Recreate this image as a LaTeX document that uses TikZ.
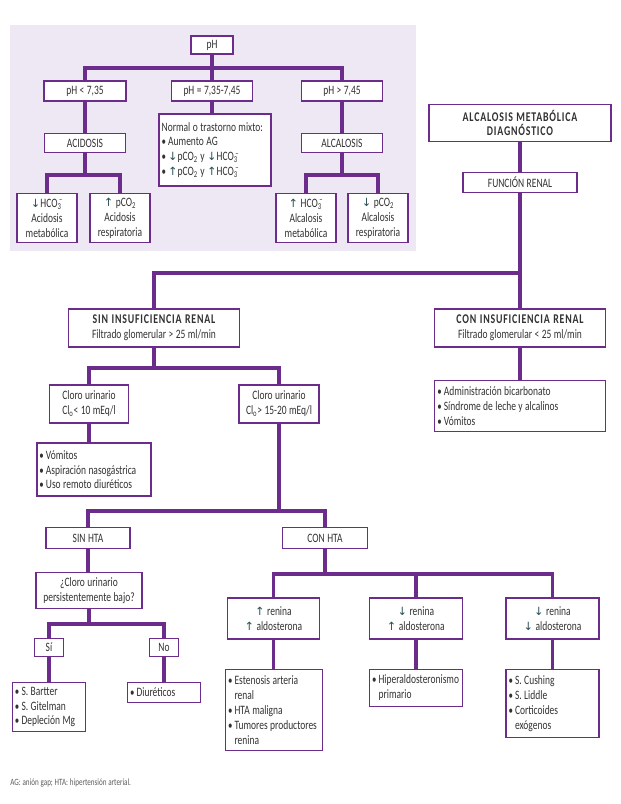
\documentclass[tikz,border=0pt]{standalone}
\usepackage{fontspec}
\setmainfont{Carlito}[FakeStretch=0.74, WordSpace={1.15,0,0}]
\newfontfamily\arrfont{DejaVu Sans}
\definecolor{pur}{RGB}{108,44,140}
\definecolor{lav}{RGB}{238,232,244}
\definecolor{txt}{RGB}{50,50,50}
\definecolor{arrc}{RGB}{40,80,85}
\newcommand\myup{{\arrfont\color{arrc}\fontsize{8.5}{10}\selectfont\char"2191}}
\newcommand\mydn{{\arrfont\color{arrc}\fontsize{8.5}{10}\selectfont\char"2193}}
\newcommand\hcoo{HCO\rlap{\textsubscript{3}}\textsuperscript{\,–}}
\newcommand\pcoo{pCO\textsubscript{2}}
\newcommand\bul{{\small\textbullet}\,}
\newcommand\hang{\phantom{{\small\textbullet}\,}}
\newcommand\hdr[1]{{\fontsize{10}{11.5}\selectfont\bfseries\addfontfeatures{LetterSpace=6}#1}}
\tikzset{
  bx/.style n args={2}{draw=pur, line width=1.2pt, fill=white,
    minimum width=#1*0.75pt, minimum height=#2*0.75pt, inner sep=1pt,
    align=center, font=\fontsize{9.6}{11.2}\selectfont, text=txt},
  lbx/.style n args={2}{draw=pur, line width=1.2pt, fill=white,
    text width=#1, minimum height=#2*0.75pt, inner xsep=2pt, inner ysep=1pt,
    align=flush left, font=\fontsize{9.6}{11.2}\selectfont, text=txt},
  conn/.style={draw=pur, line width=2.6pt, line join=miter}
}
\begin{document}
\hyphenpenalty=10000 \exhyphenpenalty=10000
\begin{tikzpicture}[x=0.75pt,y=-0.75pt]
\useasboundingbox (0,0) rectangle (621,804);
\fill[lav] (10,25) rectangle (416,251);

% ---- top panel ----
\node[bx={42}{18}] (pH) at (212,45) {pH};
\node[bx={82}{20}] (pHlow) at (85,91) {pH < 7,35};
\node[bx={81}{20}] (pHmid) at (212,91) {pH = 7,35-7,45};
\node[bx={81}{20}] (pHhigh) at (342,91) {pH > 7,45};
\node[bx={81}{19}] (acid) at (85,143) {ACIDOSIS};
\node[lbx={80pt}{72}] (normal) at (215,150) {Normal o trastorno mixto:\\ \bul Aumento AG\\ \bul\mydn\pcoo{} y \mydn\hcoo\\ \bul\myup\pcoo{} y \myup\hcoo};
\node[bx={81}{19}] (alc) at (342,143) {ALCALOSIS};
\node[bx={60}{49}] (a1) at (47,218) {\mydn\hcoo\\Acidosis\\metabólica};
\node[bx={60}{49}] (a2) at (120,218) {\myup{} \pcoo\\Acidosis\\respiratoria};
\node[bx={60}{49}] (b1) at (306,218) {\myup{} \hcoo\\Alcalosis\\metabólica};
\node[bx={60}{49}] (b2) at (378,218) {\mydn{} \pcoo\\Alcalosis\\respiratoria};

\coordinate (t1) at (212,68);
\coordinate (t2) at (85,175);
\coordinate (t3) at (342,175);
\draw[conn] (pH.south) -- (pHmid.north);
\draw[conn] (pHlow.north) |- (t1) -| (pHhigh.north);
\draw[conn] (pHlow.south) -- (acid.north);
\draw[conn] (pHmid.south) -- (pHmid.south |- normal.north);
\draw[conn] (pHhigh.south) -- (alc.north);
\draw[conn] (acid.south) -- (t2);
\draw[conn] (a1.north) |- (t2) -| (a2.north);
\draw[conn] (alc.south) -- (t3);
\draw[conn] (b1.north) |- (t3) -| (b2.north);

% ---- main flowchart ----
\node[bx={182}{37}] (diag) at (520,123) {\hdr{ALCALOSIS METABÓLICA}\\[-1pt]\hdr{DIAGNÓSTICO}};
\node[bx={114}{20}] (fr) at (520,182.5) {FUNCIÓN RENAL};
\node[bx={171}{38}] (sin) at (154,328) {\hdr{SIN INSUFICIENCIA RENAL}\\Filtrado glomerular > 25 ml/min};
\node[bx={171}{38}] (con) at (520,328) {\hdr{CON INSUFICIENCIA RENAL}\\Filtrado glomerular < 25 ml/min};
\node[lbx={124pt}{51}] (conl) at (520,406) {\bul Administración bicarbonato\\ \bul Síndrome de leche y alcalinos\\ \bul Vómitos};
\node[bx={79}{38}] (cl1) at (89,404) {Cloro urinario\\Cl\textsubscript{o}< 10 mEq/l};
\node[bx={80}{38}] (cl2) at (279,404) {Cloro urinario\\Cl\textsubscript{o}> 15-20 mEq/l};
\node[lbx={81.5pt}{53}] (list1) at (93.7,469.7) {\bul Vómitos\\ \bul Aspiración nasogástrica\\ \bul Uso remoto diuréticos};
\node[bx={84}{21}] (sinhta) at (88,538) {SIN HTA};
\node[bx={85}{21}] (conhta) at (325,538) {CON HTA};
\node[bx={106}{36}] (q) at (89,590.5) {¿Cloro urinario\\persistentemente bajo?};
\node[bx={29}{18}] (si) at (49,647.5) {Sí};
\node[bx={29}{18}] (no) at (164,647.5) {No};
\node[lbx={51pt}{49}] (bart) at (49,707) {\bul S. Bartter\\ \bul S. Gitelman\\ \bul Depleción Mg};
\node[lbx={51pt}{20}] (diur) at (164,692.5) {\bul Diuréticos};
\node[bx={92}{41}] (r1) at (273.4,618.7) {\myup{} renina\\\myup{} aldosterona};
\node[bx={93}{41}] (r2) at (415.8,618.7) {\mydn{} renina\\\myup{} aldosterona};
\node[bx={93}{41}] (r3) at (552.5,618.7) {\mydn{} renina\\\mydn{} aldosterona};
\node[lbx={69pt}{81}] (l1) at (274,710) {\bul Estenosis arteria\\ \hang renal\\ \bul HTA maligna\\ \bul Tumores productores\\ \hang renina};
\node[lbx={66pt}{37}] (l2) at (416,688) {\bul Hiperaldosteronismo\\ \hang primario};
\node[lbx={66pt}{68}] (l3) at (552.5,703.3) {\bul S. Cushing\\ \bul S. Liddle\\ \bul Corticoides\\ \hang exógenos};

\node[anchor=west, inner sep=0pt, font=\fontsize{7.2}{8}\selectfont, text=txt!80] (foot) at (10,783) {AG: anión gap; HTA: hipertensión arterial.};

\coordinate (t4) at (520,273);
\coordinate (t5) at (154,368);
\coordinate (t6) at (279,511);
\coordinate (t7) at (89,624);
\coordinate (t8) at (325,574);
\draw[conn] (diag.south) -- (fr.north);
\draw[conn] (fr.south) -- (con.north);
\draw[conn] (sin.north) |- (t4);
\draw[conn] (con.south) -- (conl.north);
\draw[conn] (sin.south) -- (t5);
\draw[conn] (cl1.north) |- (t5) -| (cl2.north);
\draw[conn] (cl1.south) -- (cl1.south |- list1.north);
\draw[conn] (cl2.south) -- (t6);
\draw[conn] (sinhta.north) |- (t6) -| (conhta.north);
\draw[conn] (sinhta.south) -- (sinhta.south |- q.north);
\draw[conn] (q.south) -- (t7);
\draw[conn] (si.north) |- (t7) -| (no.north);
\draw[conn] (si.south) -- (si.south |- bart.north);
\draw[conn] (no.south) -- (no.south |- diur.north);
\draw[conn] (conhta.south) -- (t8);
\draw[conn] (r1.north) |- (t8) -| (r3.north);
\draw[conn] (r2.north) -- (r2.north |- t8);
\draw[conn] (r1.south) -- (r1.south |- l1.north);
\draw[conn] (r2.south) -- (r2.south |- l2.north);
\draw[conn] (r3.south) -- (r3.south |- l3.north);
\end{tikzpicture}
\end{document}
